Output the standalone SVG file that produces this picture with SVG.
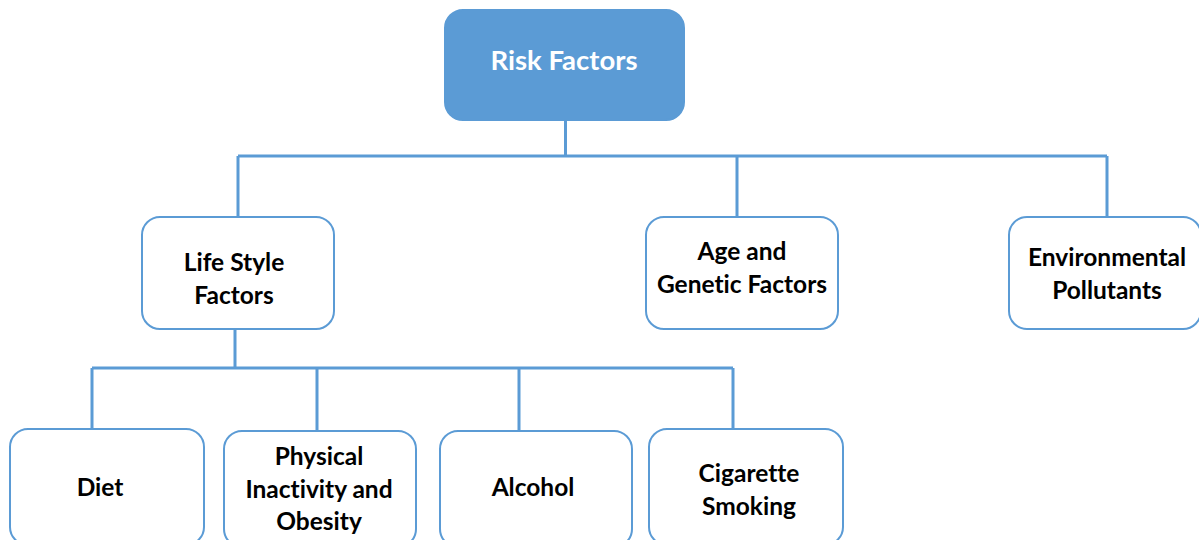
<svg xmlns="http://www.w3.org/2000/svg" width="1199" height="540" viewBox="0 0 1199 540">
<style>
.box{fill:#fff;stroke:#5B9BD5;stroke-width:2}
.root{fill:#5B9BD5;stroke:#5B9BD5;stroke-width:2}
.t{font-family:Lato,"Liberation Sans",sans-serif;font-weight:bold;font-size:24.5px;fill:#000;text-anchor:middle;font-variant-ligatures:none}
.tw{font-family:Lato,"Liberation Sans",sans-serif;font-weight:bold;font-size:27.5px;fill:#fff;text-anchor:middle;font-variant-ligatures:none}
.c{fill:none;stroke:#5B9BD5;stroke-width:3}
</style>
<rect width="1199" height="540" fill="#fff"/>
<g id="connectors">
<path class="c" d="M565.5 120V156M238 156H1107M238 156V217M737 156V217M1107 156V217"/>
<path class="c" d="M235 329V368M92 368H733M92 368V429M317 368V431M519 368V431M733 368V429"/>
</g>
<g id="risk-factors">
<rect class="root" x="445" y="10" width="239" height="110" rx="18"/>
<text class="tw" x="564" y="70">Risk Factors</text>
</g>
<g id="life-style">
<rect class="box" x="142" y="217" width="192" height="112" rx="18"/>
<text class="t" x="234" y="271">Life Style</text>
<text class="t" x="234" y="304">Factors</text>
</g>
<g id="age-genetic">
<rect class="box" x="646" y="217" width="192" height="112" rx="18"/>
<text class="t" x="742" y="260">Age and</text>
<text class="t" x="742" y="293">Genetic Factors</text>
</g>
<g id="environmental">
<rect class="box" x="1009" y="217" width="192" height="112" rx="18"/>
<text class="t" x="1107" y="266">Environmental</text>
<text class="t" x="1107" y="299">Pollutants</text>
</g>
<g id="diet">
<rect class="box" x="10" y="429" width="194" height="116" rx="18"/>
<text class="t" x="100" y="496">Diet</text>
</g>
<g id="physical">
<rect class="box" x="224" y="431" width="192" height="116" rx="18"/>
<text class="t" x="319" y="465">Physical</text>
<text class="t" x="319" y="498">Inactivity and</text>
<text class="t" x="319" y="530">Obesity</text>
</g>
<g id="alcohol">
<rect class="box" x="440" y="431" width="192" height="116" rx="18"/>
<text class="t" x="533" y="496">Alcohol</text>
</g>
<g id="cigarette">
<rect class="box" x="649" y="429" width="194" height="116" rx="18"/>
<text class="t" x="749" y="482">Cigarette</text>
<text class="t" x="749" y="515">Smoking</text>
</g>
</svg>
